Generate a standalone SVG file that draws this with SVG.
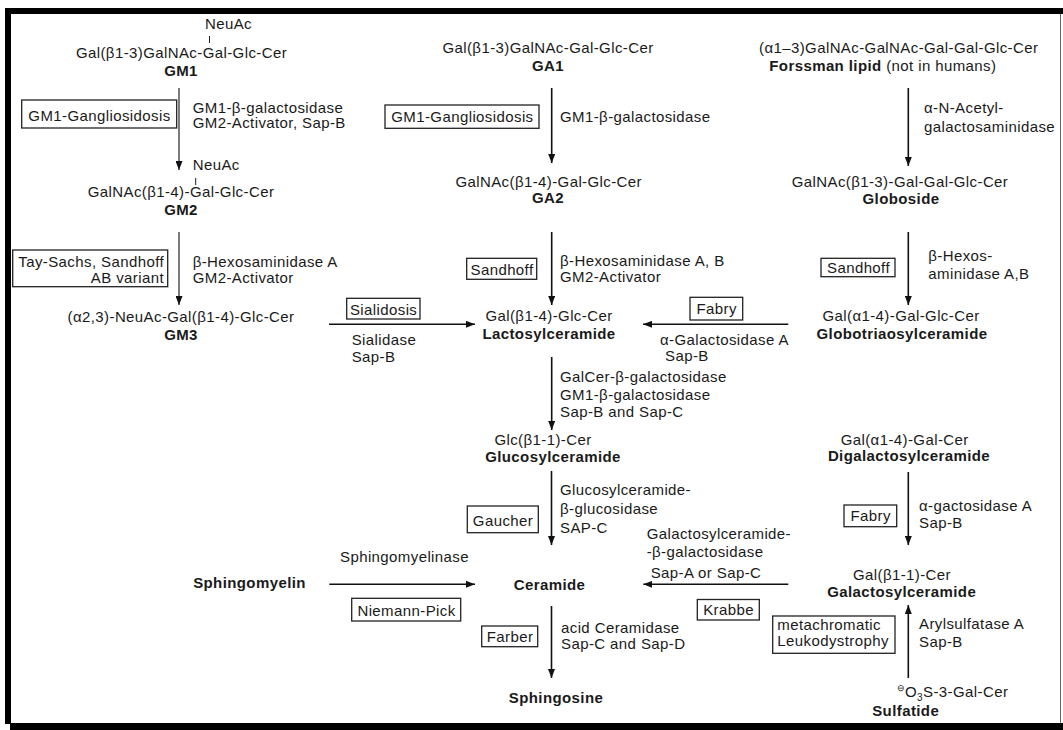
<svg xmlns="http://www.w3.org/2000/svg" width="1063" height="730" viewBox="0 0 1063 730">
<defs>
<marker id="ah" markerUnits="userSpaceOnUse" markerWidth="10" markerHeight="7" refX="9" refY="3.5" orient="auto">
<path d="M0,0 L9,3.5 L0,7 Z" fill="#111"/>
</marker>
<style>
text{font-family:"Liberation Sans",Arial,Helvetica,sans-serif;font-size:15px;fill:#1a1a1a;letter-spacing:0.4px}
.b{font-weight:bold}
.m{text-anchor:middle}
.e{text-anchor:end}
.box{fill:none;stroke:#222;stroke-width:1.3}
.arr{fill:none;stroke:#111;stroke-width:1.6;marker-end:url(#ah)}
.thin{stroke-width:1.1}
.tick{stroke:#222;stroke-width:1}
</style>
</defs>
<rect width="1063" height="730" fill="#fff"/>
<g id="frame">
<rect x="5" y="8" width="1058" height="6" fill="#000"/>
<rect x="5" y="8" width="6" height="716" fill="#000"/>
<rect x="10" y="723" width="1053" height="7" fill="#000"/>
<line x1="1060.5" y1="14" x2="1060.5" y2="723" stroke="#666" stroke-width="1"/>
</g>
<g id="connectors">
<line class="arr thin" x1="179" y1="88" x2="179" y2="170"/>
<line class="arr thin" x1="179" y1="232" x2="179" y2="305"/>
<line class="arr" x1="551.7" y1="88" x2="551.7" y2="163"/>
<line class="arr" x1="551.7" y1="232" x2="551.7" y2="305"/>
<line class="arr" x1="551.7" y1="357" x2="551.7" y2="430"/>
<line class="arr" x1="551.5" y1="471" x2="551.5" y2="545"/>
<line class="arr" x1="551.5" y1="606" x2="551.5" y2="678"/>
<line class="arr" x1="908.3" y1="88" x2="908.3" y2="166"/>
<line class="arr" x1="908.3" y1="232" x2="908.3" y2="305"/>
<line class="arr" x1="908.3" y1="472" x2="908.3" y2="545"/>
<line class="arr" x1="908.3" y1="678" x2="908.3" y2="605"/>
<line class="arr" x1="329" y1="324.3" x2="475" y2="324.3"/>
<line class="arr" x1="788.3" y1="324.3" x2="643" y2="324.3"/>
<line class="arr" x1="329.3" y1="584.3" x2="475" y2="584.3"/>
<line class="arr" x1="788.3" y1="584.3" x2="643.3" y2="584.3"/>
</g>
<g id="GM1">
<text x="205" y="29">NeuAc</text>
<line class="tick" x1="209.5" y1="36" x2="209.5" y2="43"/>
<text class="m" x="181.5" y="58">Gal(β1-3)GalNAc-Gal-Glc-Cer</text>
<text class="m b" x="181" y="76">GM1</text>
</g>
<g id="GM1-enzyme">
<rect class="box" x="21.7" y="100" width="155" height="28"/>
<text class="m" x="99.5" y="120.5">GM1-Gangliosidosis</text>
<text x="192.7" y="112.5">GM1-β-galactosidase</text>
<text x="192.7" y="128">GM2-Activator, Sap-B</text>
</g>
<g id="GM2">
<text x="192.7" y="170">NeuAc</text>
<line class="tick" x1="195.7" y1="178" x2="195.7" y2="185"/>
<text class="m" x="181" y="196.5">GalNAc(β1-4)-Gal-Glc-Cer</text>
<text class="m b" x="181" y="215">GM2</text>
</g>
<g id="GM2-enzyme">
<rect class="box" x="12.7" y="250" width="155" height="36.7"/>
<text class="e" x="164" y="266.5">Tay-Sachs, Sandhoff</text>
<text class="e" x="164" y="282.5">AB variant</text>
<text x="192.7" y="266.5">β-Hexosaminidase A</text>
<text x="192.7" y="282.5">GM2-Activator</text>
</g>
<g id="GM3">
<text class="m" x="181" y="321.5">(α2,3)-NeuAc-Gal(β1-4)-Glc-Cer</text>
<text class="m b" x="181" y="340">GM3</text>
</g>
<g id="sialidosis">
<rect class="box" x="346.7" y="298.3" width="73.3" height="20.7"/>
<text class="m" x="383.6" y="314.5">Sialidosis</text>
<text x="351.7" y="345">Sialidase</text>
<text x="351.7" y="361.5">Sap-B</text>
</g>
<g id="GA1">
<text class="m" x="548" y="52.5">Gal(β1-3)GalNAc-Gal-Glc-Cer</text>
<text class="m b" x="548" y="71">GA1</text>
</g>
<g id="GA1-enzyme">
<rect class="box" x="385" y="105" width="154" height="23.3"/>
<text class="m" x="462.4" y="122">GM1-Gangliosidosis</text>
<text x="560" y="122">GM1-β-galactosidase</text>
</g>
<g id="GA2">
<text class="m" x="548.7" y="186.5">GalNAc(β1-4)-Gal-Glc-Cer</text>
<text class="m b" x="548" y="203">GA2</text>
</g>
<g id="GA2-enzyme">
<rect class="box" x="466.7" y="258.3" width="70" height="21"/>
<text class="m" x="502" y="275">Sandhoff</text>
<text x="560" y="266">β-Hexosaminidase A, B</text>
<text x="560" y="281.7">GM2-Activator</text>
</g>
<g id="lactosylceramide">
<text class="m" x="549" y="321">Gal(β1-4)-Glc-Cer</text>
<text class="m b" x="549" y="339">Lactosylceramide</text>
</g>
<g id="lacto-enzyme">
<text x="560" y="381.5">GalCer-β-galactosidase</text>
<text x="560" y="399.5">GM1-β-galactosidase</text>
<text x="560" y="416.5">Sap-B and Sap-C</text>
</g>
<g id="glucosylceramide">
<text class="m" x="543" y="445">Glc(β1-1)-Cer</text>
<text class="m b" x="553" y="461.5">Glucosylceramide</text>
</g>
<g id="gluco-enzyme">
<rect class="box" x="467.3" y="506" width="71" height="26.7"/>
<text class="m" x="503" y="525.5">Gaucher</text>
<text x="560" y="495">Glucosylceramide-</text>
<text x="560" y="514">β-glucosidase</text>
<text x="560" y="533">SAP-C</text>
</g>
<g id="sphingomyelin">
<text class="m b" x="249.5" y="588">Sphingomyelin</text>
</g>
<g id="sphingomyelinase">
<text x="340" y="561.5">Sphingomyelinase</text>
<rect class="box" x="351.7" y="598.3" width="109" height="22.7"/>
<text class="m" x="406.5" y="615.5">Niemann-Pick</text>
</g>
<g id="ceramide">
<text class="m b" x="549.5" y="590">Ceramide</text>
</g>
<g id="ceramidase">
<rect class="box" x="481.7" y="626" width="56" height="20.7"/>
<text class="m" x="510" y="641.5">Farber</text>
<text x="561" y="633">acid Ceramidase</text>
<text x="561" y="649">Sap-C and Sap-D</text>
</g>
<g id="sphingosine">
<text class="m b" x="556" y="703">Sphingosine</text>
</g>
<g id="forssman">
<text class="m" x="898.7" y="53">(α1–3)GalNAc-GalNAc-Gal-Gal-Glc-Cer</text>
<text x="769.3" y="70.5"><tspan class="b">Forssman lipid</tspan> (not in humans)</text>
<text x="924" y="113">α-N-Acetyl-</text>
<text x="924" y="131.5">galactosaminidase</text>
</g>
<g id="globoside">
<text class="m" x="900" y="186.5">GalNAc(β1-3)-Gal-Gal-Glc-Cer</text>
<text class="m b" x="901" y="204">Globoside</text>
</g>
<g id="globoside-enzyme">
<rect class="box" x="821" y="258.3" width="74" height="18.4"/>
<text class="m" x="858.5" y="272.5">Sandhoff</text>
<text x="928.3" y="260.5">β-Hexos-</text>
<text x="928.3" y="279">aminidase A,B</text>
</g>
<g id="globotriaosylceramide">
<text class="m" x="901" y="321">Gal(α1-4)-Gal-Glc-Cer</text>
<text class="m b" x="902" y="339">Globotriaosylceramide</text>
</g>
<g id="fabry-1">
<rect class="box" x="690" y="297.3" width="52.7" height="22.7"/>
<text class="m" x="716.7" y="314">Fabry</text>
<text x="660" y="345">α-Galactosidase A</text>
<text x="665" y="360.5">Sap-B</text>
</g>
<g id="digalactosylceramide">
<text class="m" x="904.7" y="445">Gal(α1-4)-Gal-Cer</text>
<text class="m b" x="909" y="460.5">Digalactosylceramide</text>
</g>
<g id="fabry-2">
<rect class="box" x="844" y="505" width="52.7" height="21.7"/>
<text class="m" x="870.7" y="521">Fabry</text>
<text x="919" y="510.5">α-gactosidase A</text>
<text x="919" y="528">Sap-B</text>
</g>
<g id="galactosylceramide">
<text class="m" x="902" y="580">Gal(β1-1)-Cer</text>
<text class="m b" x="901.7" y="597">Galactosylceramide</text>
</g>
<g id="galacto-enzyme">
<text x="646.7" y="539">Galactosylceramide-</text>
<text x="646.7" y="556.5">-β-galactosidase</text>
<text x="650.7" y="578">Sap-A or Sap-C</text>
<rect class="box" x="697.3" y="599.5" width="62" height="20.5"/>
<text class="m" x="728.6" y="615">Krabbe</text>
</g>
<g id="sulfatide-enzyme">
<rect class="box" x="772.7" y="616" width="122.3" height="37.3"/>
<text x="777.3" y="630">metachromatic</text>
<text x="777.3" y="645.5">Leukodystrophy</text>
<text x="919" y="629">Arylsulfatase A</text>
<text x="919" y="646.5">Sap-B</text>
</g>
<g id="sulfatide">
<text x="897" y="697"><tspan font-size="9" dy="-6" style="letter-spacing:0">⊖</tspan><tspan dy="6">O</tspan><tspan font-size="10" dy="4">3</tspan><tspan dy="-4">S-3-Gal-Cer</tspan></text>
<text class="m b" x="905.7" y="716">Sulfatide</text>
</g>
</svg>
